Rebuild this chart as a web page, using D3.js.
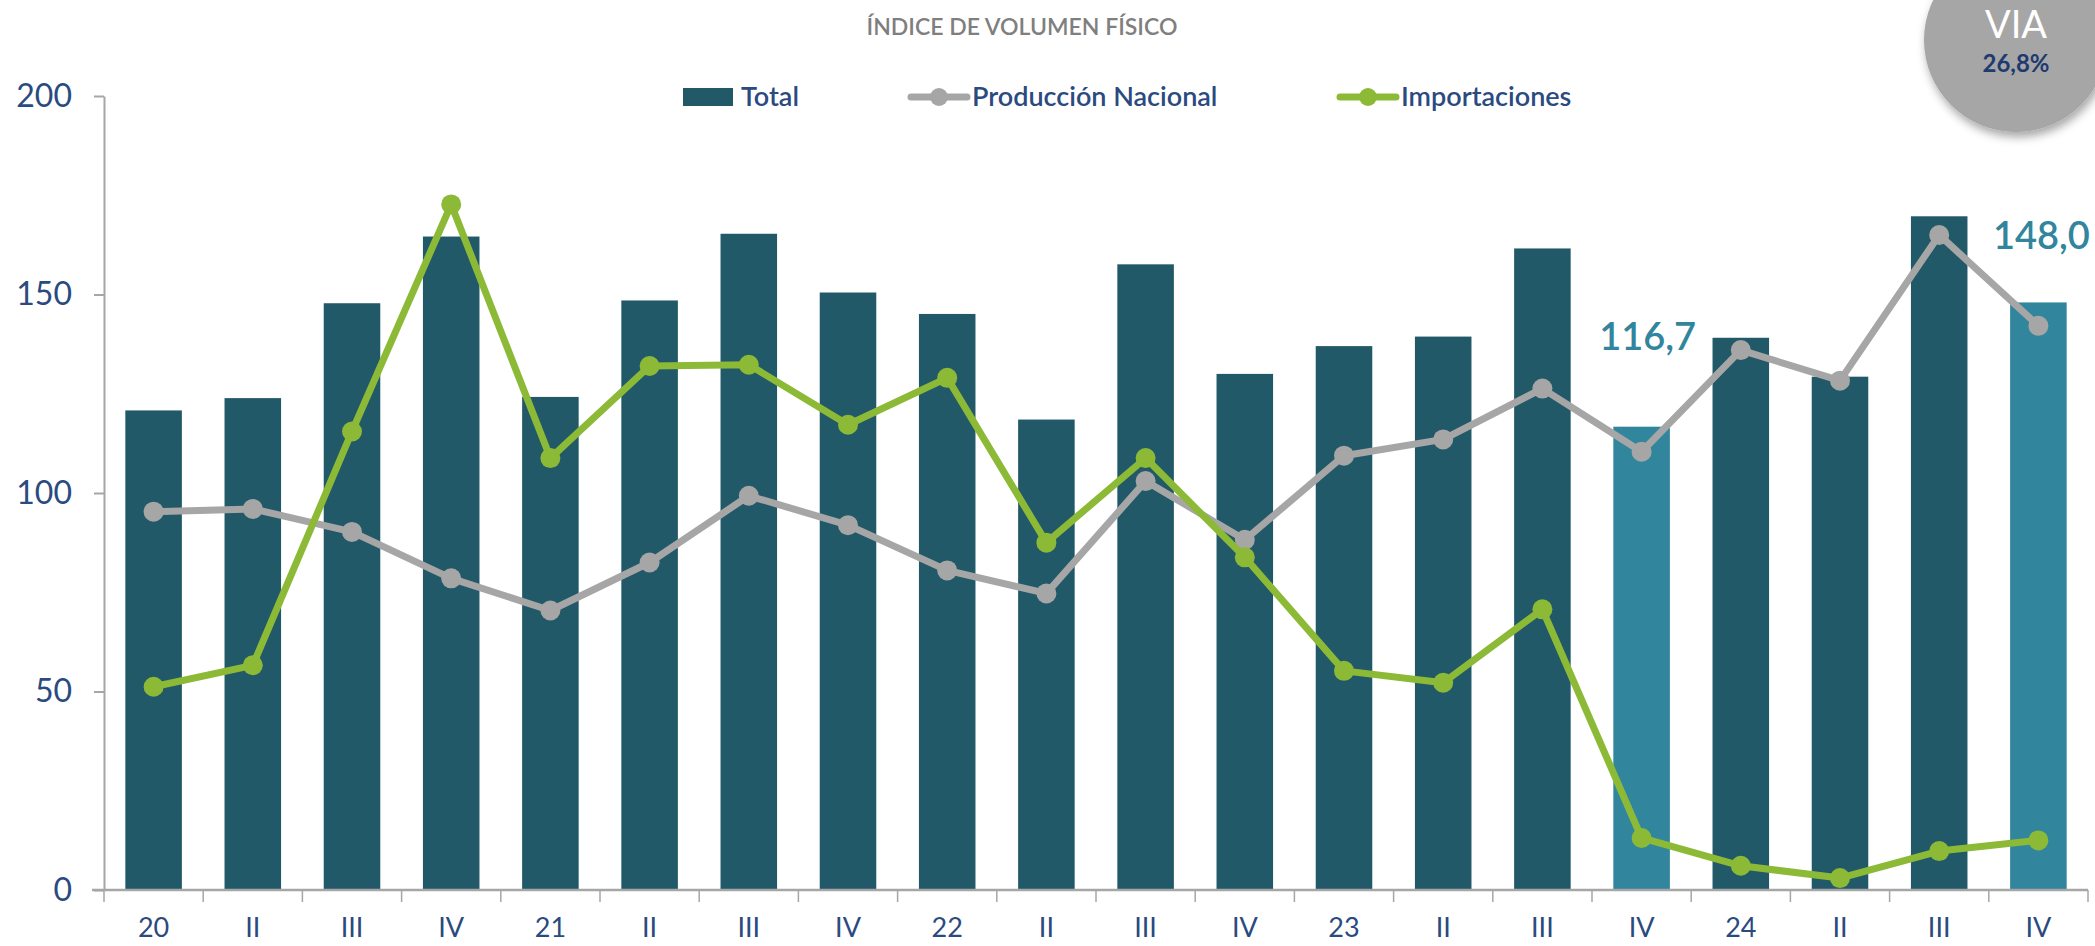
<!DOCTYPE html>
<html lang="es">
  <head>
    <meta charset="UTF-8" />
    <title>Índice de Volumen Físico</title>
  </head>
  <style>
    body {
      margin: 0;
      background: #fff;
    }
    svg text {
      font-family: 'Lato', 'Open Sans', sans-serif;
    }
  </style>
  <body>
    <svg id="svg" width="2095" height="946"></svg>

    <script src="https://d3js.org/d3.v7.min.js"></script>
    <script>
      // quarters, "20" = 2020 Q1 etc
      const quarters = ['20', 'II', 'III', 'IV', '21', 'II', 'III', 'IV', '22', 'II',
        'III', 'IV', '23', 'II', 'III', 'IV', '24', 'II', 'III', 'IV'];
      const total = [120.8, 123.9, 147.8, 164.6, 124.2, 148.5, 165.3, 150.5, 145.1, 118.5,
        157.6, 130.0, 137.0, 139.4, 161.6, 116.7, 139.1, 129.3, 169.7, 148.0];
      const produccion = [95.3, 96.0, 90.2, 78.5, 70.4, 82.5, 99.3, 91.9, 80.5, 74.7,
        103.0, 88.2, 109.4, 113.5, 126.3, 110.4, 136.0, 128.3, 165.0, 142.1];
      const importaciones = [51.2, 56.6, 115.5, 172.7, 108.8, 132.0, 132.3, 117.2, 129.0, 87.5,
        108.8, 83.8, 55.2, 52.2, 70.7, 13.1, 6.1, 3.0, 9.8, 12.5];
      const highlighted = [15, 19]; // bars drawn lighter with value label
      const yTicks = [0, 50, 100, 150, 200];

      const svg = d3.select('#svg');
      const margin = { top: 96, right: 7, bottom: 56, left: 104 };
      const W = 2095, H = 946;

      const x = d3.scaleBand()
        .domain(d3.range(quarters.length))
        .range([margin.left, W - margin.right])
        .paddingInner(0.43)
        .paddingOuter(0.215);
      const y = d3.scaleLinear().domain([0, 200]).range([H - margin.bottom, margin.top]);
      const step = x.step();
      const x0 = margin.left, x1 = W - margin.right;

      // title
      svg.append('text')
        .attr('x', 1022).attr('y', 35)
        .attr('text-anchor', 'middle')
        .attr('fill', '#7f7f7f')
        .style('font-size', '23px')
        .style('font-weight', 600)
        .text('ÍNDICE DE VOLUMEN FÍSICO');

      // y axis
      const yAxis = svg.append('g')
        .attr('transform', `translate(${x0},0)`)
        .call(d3.axisLeft(y).tickValues(yTicks).tickSize(10).tickSizeOuter(0).tickPadding(22));
      yAxis.selectAll('line, path').attr('stroke', '#a6a6a6').attr('stroke-width', 2);
      yAxis.selectAll('text')
        .attr('fill', '#2a4a80')
        .style('font-size', '32px');

      // bars
      svg.selectAll('rect.bar')
        .data(total)
        .enter()
        .append('rect')
        .attr('class', 'bar')
        .attr('x', (d, i) => x(i))
        .attr('width', x.bandwidth())
        .attr('y', (d) => y(d))
        .attr('height', (d) => y(0) - y(d))
        .attr('fill', (d, i) => (highlighted.includes(i) ? '#31859c' : '#215968'));

      // x axis
      const base = y(0);
      svg.append('line')
        .attr('x1', x0 - 12).attr('x2', x1)
        .attr('y1', base).attr('y2', base)
        .attr('stroke', '#a6a6a6').attr('stroke-width', 2.5);
      svg.selectAll('line.xtick')
        .data(d3.range(quarters.length + 1))
        .enter()
        .append('line')
        .attr('class', 'xtick')
        .attr('x1', (i) => x0 + i * step).attr('x2', (i) => x0 + i * step)
        .attr('y1', base).attr('y2', base + 12)
        .attr('stroke', '#a6a6a6').attr('stroke-width', 1.5);
      svg.selectAll('text.xlab')
        .data(quarters)
        .enter()
        .append('text')
        .attr('class', 'xlab')
        .attr('x', (d, i) => x(i) + x.bandwidth() / 2)
        .attr('y', base + 47)
        .attr('text-anchor', 'middle')
        .attr('fill', '#2a4a80')
        .style('font-size', '27px')
        .text((d) => d);

      // lines
      const cx = (i) => x(i) + x.bandwidth() / 2;
      const series = [
        { values: produccion, color: '#a6a6a6' },
        { values: importaciones, color: '#8cba37' },
      ];
      series.forEach((s) => {
        svg.append('path')
          .datum(s.values)
          .attr('fill', 'none')
          .attr('stroke', s.color)
          .attr('stroke-width', 7)
          .attr('stroke-linejoin', 'round')
          .attr('d', d3.line().x((d, i) => cx(i)).y((d) => y(d)));
        svg.append('g')
          .selectAll('circle')
          .data(s.values)
          .enter()
          .append('circle')
          .attr('cx', (d, i) => cx(i))
          .attr('cy', (d) => y(d))
          .attr('r', 10)
          .attr('fill', s.color);
      });

      // value labels on highlighted bars
      svg.append('text')
        .attr('x', cx(15) + 6).attr('y', y(136))
        .attr('text-anchor', 'middle')
        .attr('fill', '#31859c')
        .style('font-size', '38px')
        .style('font-weight', 600)
        .text('116,7');
      svg.append('text')
        .attr('x', cx(19) + 3).attr('y', y(161.5))
        .attr('text-anchor', 'middle')
        .attr('fill', '#31859c')
        .style('font-size', '38px')
        .style('font-weight', 600)
        .text('148,0');

      // legend
      const legend = svg.append('g').style('font-size', '27px').style('font-weight', 600);
      legend.append('rect')
        .attr('x', 683).attr('y', 88).attr('width', 50).attr('height', 18)
        .attr('fill', '#215968');
      legend.append('text').attr('x', 741).attr('y', 106).attr('fill', '#2a4a80').text('Total');
      [
        { x: 911, label: 'Producción Nacional', color: '#a6a6a6' },
        { x: 1340, label: 'Importaciones', color: '#8cba37' },
      ].forEach((l) => {
        legend.append('line')
          .attr('x1', l.x).attr('x2', l.x + 56)
          .attr('y1', 97).attr('y2', 97)
          .attr('stroke', l.color).attr('stroke-width', 7)
          .attr('stroke-linecap', 'round');
        legend.append('circle').attr('cx', l.x + 28).attr('cy', 97).attr('r', 9).attr('fill', l.color);
        legend.append('text').attr('x', l.x + 61).attr('y', 106).attr('fill', '#2a4a80').text(l.label);
      });

      // VIA bubble
      const defs = svg.append('defs');
      const f = defs.append('filter').attr('id', 'shadow')
        .attr('x', '-30%').attr('y', '-30%').attr('width', '160%').attr('height', '160%');
      f.append('feDropShadow')
        .attr('dx', 2).attr('dy', 5).attr('stdDeviation', 5)
        .attr('flood-color', '#000').attr('flood-opacity', 0.35);
      svg.append('circle')
        .attr('cx', 2016).attr('cy', 40).attr('r', 92)
        .attr('fill', '#a6a6a6')
        .attr('filter', 'url(#shadow)');
      svg.append('text')
        .attr('x', 2016).attr('y', 38)
        .attr('text-anchor', 'middle')
        .attr('fill', '#fff')
        .style('font-size', '38px')
        .text('VIA');
      svg.append('text')
        .attr('x', 2016).attr('y', 72)
        .attr('text-anchor', 'middle')
        .attr('fill', '#1f3a6e')
        .style('font-size', '24px')
        .style('font-weight', 700)
        .text('26,8%');
    </script>
  </body>
</html>
